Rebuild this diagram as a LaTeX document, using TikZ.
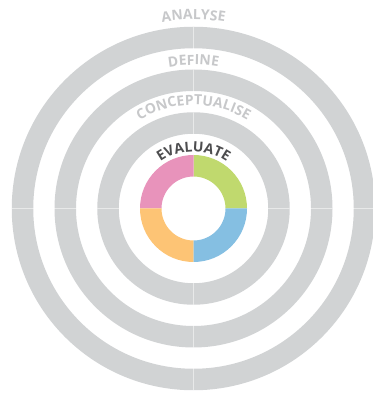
\documentclass[tikz,border=0pt]{standalone}
\usepackage{fontspec}
\setmainfont{Open Sans}
\usepackage{tikz}
\usetikzlibrary{decorations.text}
\definecolor{ringgray}{RGB}{209,211,212}
\definecolor{labelgray}{RGB}{199,200,202}
\definecolor{evalgray}{RGB}{77,77,79}
\definecolor{evalgreen}{RGB}{192,217,110}
\definecolor{evalblue}{RGB}{133,191,226}
\definecolor{evalorange}{RGB}{253,196,117}
\definecolor{evalpink}{RGB}{232,147,187}
\tikzset{
ring/.style = { draw = ringgray, line width = 21.5pt },
divider/.style = { draw = white, draw opacity = 0.5, line width = 0.6pt },
}
\tikzset{
pics/ring label/.style args={#1, #2, #3, #4}{
        code = {
        \path[decorate, decoration = {text along path, text align = center,
            text = {|\bfseries\fontsize{#3}{#3}\selectfont\color{#4}|#1}}]
            (150:#2) arc[start angle = 150, end angle = 30, radius = #2];
        }
    },
pics/quarter/.style args={#1, #2}{
        code = {
        \fill[#2] (#1:53.5) arc[start angle = #1, delta angle = 90, radius = 53.5]
            -- ({#1+90}:32) arc[start angle = {#1+90}, delta angle = -90, radius = 32] -- cycle;
        }
    }
}
\begin{document}
\begin{tikzpicture}[x = 1pt, y = 1pt]
      \useasboundingbox (0, 0) rectangle (372, 393);
      \coordinate (c) at (193.5, 184.5);
      % grey rings
      \foreach \r in {85.5, 128.25, 171} {
        \draw[ring] (c) circle[radius = \r];
      }
      \draw[divider] (c) ++(0, -183) -- ++(0, 366);
      \draw[divider] (c) ++(-183, 0) -- ++(366, 0);
      % evaluate wheel
      \draw (c) pic{quarter = {0, evalgreen}};
      \draw (c) pic{quarter = {90, evalpink}};
      \draw (c) pic{quarter = {180, evalorange}};
      \draw (c) pic{quarter = {270, evalblue}};
      % labels
      \draw (c) pic{ring label = {ANALYSE, 189, 14, labelgray}};
      \draw (c) pic{ring label = {DEFINE, 143.5, 14, labelgray}};
      \draw (c) pic{ring label = {CONCEPTUALISE, 103.5, 14, labelgray}};
      \draw (c) pic{ring label = {EVALUATE, 57, 14, evalgray}};
\end{tikzpicture}
\end{document}
